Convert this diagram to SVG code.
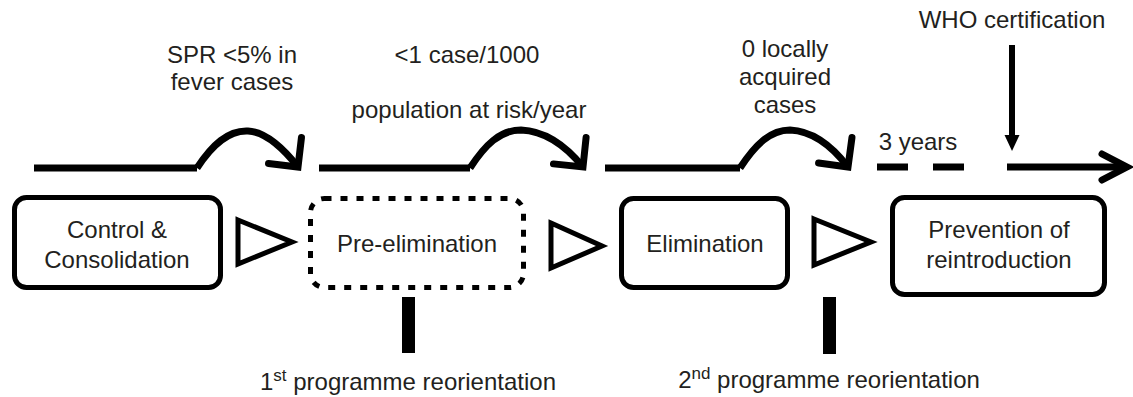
<svg xmlns="http://www.w3.org/2000/svg" width="1133" height="397" viewBox="0 0 1133 397">
<style>
text{font-family:"Liberation Sans",Arial,sans-serif;font-size:24px;fill:#231f20;text-anchor:middle}
.box{fill:#fff;stroke:#000;stroke-width:5}
.dash{stroke-dasharray:7 9}
.tri{fill:#fff;stroke:#000;stroke-width:5;stroke-linejoin:miter}
.line{fill:none;stroke:#000;stroke-width:7}
.head{fill:none;stroke:#000;stroke-width:7;stroke-linecap:round;stroke-linejoin:miter}
.sup{font-size:17px}
</style>
<defs>
<marker id="chev" markerUnits="userSpaceOnUse" orient="auto" refX="0" refY="0" markerWidth="60" markerHeight="60" viewBox="-30 -30 60 60" overflow="visible">
<path d="M-21,-21 L0,0 L-21,21" fill="none" stroke="#000" stroke-width="7" stroke-linecap="round" stroke-linejoin="miter"/>
</marker>
</defs>
<g id="connectors">
<path class="line" d="M34,168 H197"/>
<path class="line" d="M197,168 C212,145 228,130 248,131 C266,132 283,148 298,167" marker-end="url(#chev)"/>
<path class="line" d="M319,168 H470"/>
<path class="line" d="M470,168 C485,145 500,130 521,130 C545,131 566,146 583,167" marker-end="url(#chev)"/>
<path class="line" d="M605,168 H740"/>
<path class="line" d="M740,168 C755,145 770,130 790,130 C812,131 832,146 848,167" marker-end="url(#chev)"/>
<path class="line" d="M877,167 H908 M933,167 H964"/>
<path class="line" d="M1007,167 H1125"/>
<polyline class="head" points="1102,154 1127,167 1102,180"/>
<path d="M1012,45 V137" stroke="#000" stroke-width="6"/>
<polygon points="1004.5,135 1019.5,135 1012,151" fill="#000"/>
<polygon class="tri" points="238,220 292,242 238,264"/>
<polygon class="tri" points="551,223 602,246 551,268"/>
<polygon class="tri" points="814,219 871,242 814,265"/>
<rect x="402" y="297" width="13" height="56" fill="#000"/>
<rect x="823" y="297" width="13" height="57" fill="#000"/>
</g>
<g id="node-control">
<rect class="box" x="14.5" y="197.5" width="206" height="90" rx="12"/>
<text x="117" y="238">Control &amp;</text>
<text x="117" y="268">Consolidation</text>
</g>
<g id="node-preelimination">
<rect class="box dash" x="310.5" y="198.5" width="213" height="89" rx="14"/>
<text x="417" y="252">Pre-elimination</text>
</g>
<g id="node-elimination">
<rect class="box" x="621.5" y="198.5" width="166" height="89" rx="12"/>
<text x="705" y="252">Elimination</text>
</g>
<g id="node-prevention">
<rect class="box" x="892.5" y="197.5" width="212" height="97" rx="12"/>
<text x="999" y="238">Prevention of</text>
<text x="999" y="268">reintroduction</text>
</g>
<g id="labels">
<text x="232" y="63">SPR &lt;5% in</text>
<text x="232" y="90">fever cases</text>
<text x="467" y="63">&lt;1 case/1000</text>
<text x="469" y="118">population at risk/year</text>
<text x="785" y="57">0 locally</text>
<text x="785" y="85">acquired</text>
<text x="785" y="113">cases</text>
<text x="1012" y="28">WHO certification</text>
<text x="918" y="150">3 years</text>
<text x="408" y="390">1<tspan class="sup" dy="-9">st</tspan><tspan dy="9"> programme reorientation</tspan></text>
<text x="829" y="388">2<tspan class="sup" dy="-9">nd</tspan><tspan dy="9"> programme reorientation</tspan></text>
</g>
</svg>
